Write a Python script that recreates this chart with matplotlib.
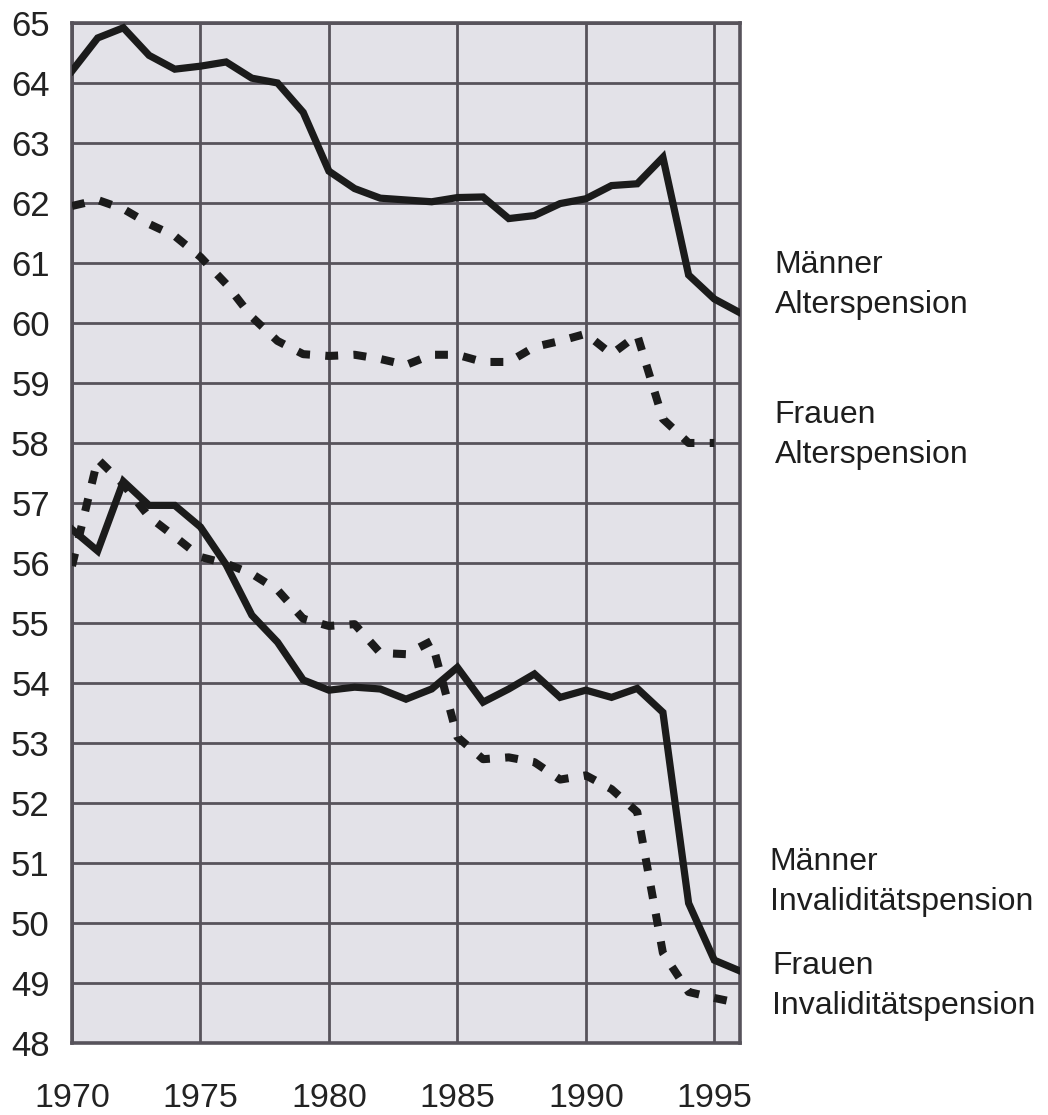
import matplotlib
matplotlib.use('Agg')
import matplotlib.pyplot as plt
import numpy as np

# ── Daten (Durchschnittliches Pensionsantrittsalter) ─────────────
years = np.arange(1970, 1997)

maenner_alter = [64.2, 64.75, 64.92, 64.46, 64.23, 64.28, 64.35, 64.08, 64.0, 63.51,
                 62.53, 62.24, 62.08, 62.05, 62.02, 62.09, 62.1, 61.74, 61.79, 61.99,
                 62.07, 62.29, 62.32, 62.76, 60.8, 60.4, 60.17]

frauen_alter = [61.95, 62.05, 61.9, 61.65, 61.45, 61.1, 60.65, 60.1, 59.7, 59.48,
                59.45, 59.47, 59.4, 59.3, 59.47, 59.47, 59.35, 59.35, 59.6, 59.7,
                59.82, 59.48, 59.8, 58.4, 58.0, 58.0]

maenner_inval = [56.56, 56.2, 57.36, 56.96, 56.96, 56.6, 55.97, 55.13, 54.68, 54.05,
                 53.88, 53.93, 53.9, 53.73, 53.9, 54.26, 53.68, 53.9, 54.15, 53.76,
                 53.88, 53.76, 53.91, 53.51, 50.33, 49.38, 49.2]

frauen_inval = [55.95, 57.73, 57.31, 56.77, 56.44, 56.1, 55.99, 55.82, 55.55, 55.07,
                54.95, 54.98, 54.5, 54.48, 54.7, 53.1, 52.73, 52.76, 52.68, 52.39,
                52.46, 52.23, 51.85, 49.5, 48.85, 48.75, 48.66]

labels = ['Männer\nAlterspension', 'Frauen\nAlterspension',
          'Männer\nInvaliditätspension', 'Frauen\nInvaliditätspension']
label_y = [60.63, 58.13, 50.68, 48.95]
label_x = [1997.35, 1997.35, 1997.15, 1997.25]

x_ticks = [1970, 1975, 1980, 1985, 1990, 1995]
y_ticks = np.arange(48, 66)

# ── Grafik ───────────────────────────────────────────────────────
grid_col = '#57535b'
line_col = '#1b1b1b'

fig = plt.figure(figsize=(10.48, 11.15), dpi=100)
ax = fig.add_axes([0.0687, 0.0646, 0.6374, 0.9148])
ax.set_facecolor('#e3e2e8')

ax.plot(years, maenner_alter, color=line_col, lw=5.2, solid_joinstyle='miter', zorder=3)
ax.plot(years, maenner_inval, color=line_col, lw=5.2, solid_joinstyle='miter', zorder=3)
ax.plot(years[:len(frauen_alter)], frauen_alter, color=line_col, lw=5.8,
        dashes=(1.6, 1.9), dash_capstyle='butt', zorder=3)
ax.plot(years, frauen_inval, color=line_col, lw=5.8,
        dashes=(1.6, 1.9), dash_capstyle='butt', zorder=3)

ax.set_xlim(1970, 1996)
ax.set_ylim(48, 65)
ax.set_xticks(x_ticks)
ax.set_yticks(y_ticks)
ax.grid(True, color=grid_col, lw=2.0, zorder=1)
ax.set_axisbelow(True)
for s in ax.spines.values():
    s.set_color(grid_col)
    s.set_linewidth(2.6)

ax.tick_params(axis='both', length=0)
ax.tick_params(axis='y', pad=16)
ax.tick_params(axis='x', pad=29)
for lab in ax.get_yticklabels():
    lab.set_fontsize(25)
    lab.set_fontfamily(['Liberation Sans', 'DejaVu Sans'])
    lab.set_color('#222222')
for lab in ax.get_xticklabels():
    lab.set_fontsize(24.5)
    lab.set_fontfamily(['Liberation Sans', 'DejaVu Sans'])
    lab.set_color('#222222')

for txt, x, y in zip(labels, label_x, label_y):
    ax.text(x, y, txt, fontsize=23, va='center', ha='left', linespacing=1.42,
            family=['Liberation Sans', 'DejaVu Sans'],
            color='#1e1e1e', clip_on=False)

fig.savefig('out.png', dpi=100)
